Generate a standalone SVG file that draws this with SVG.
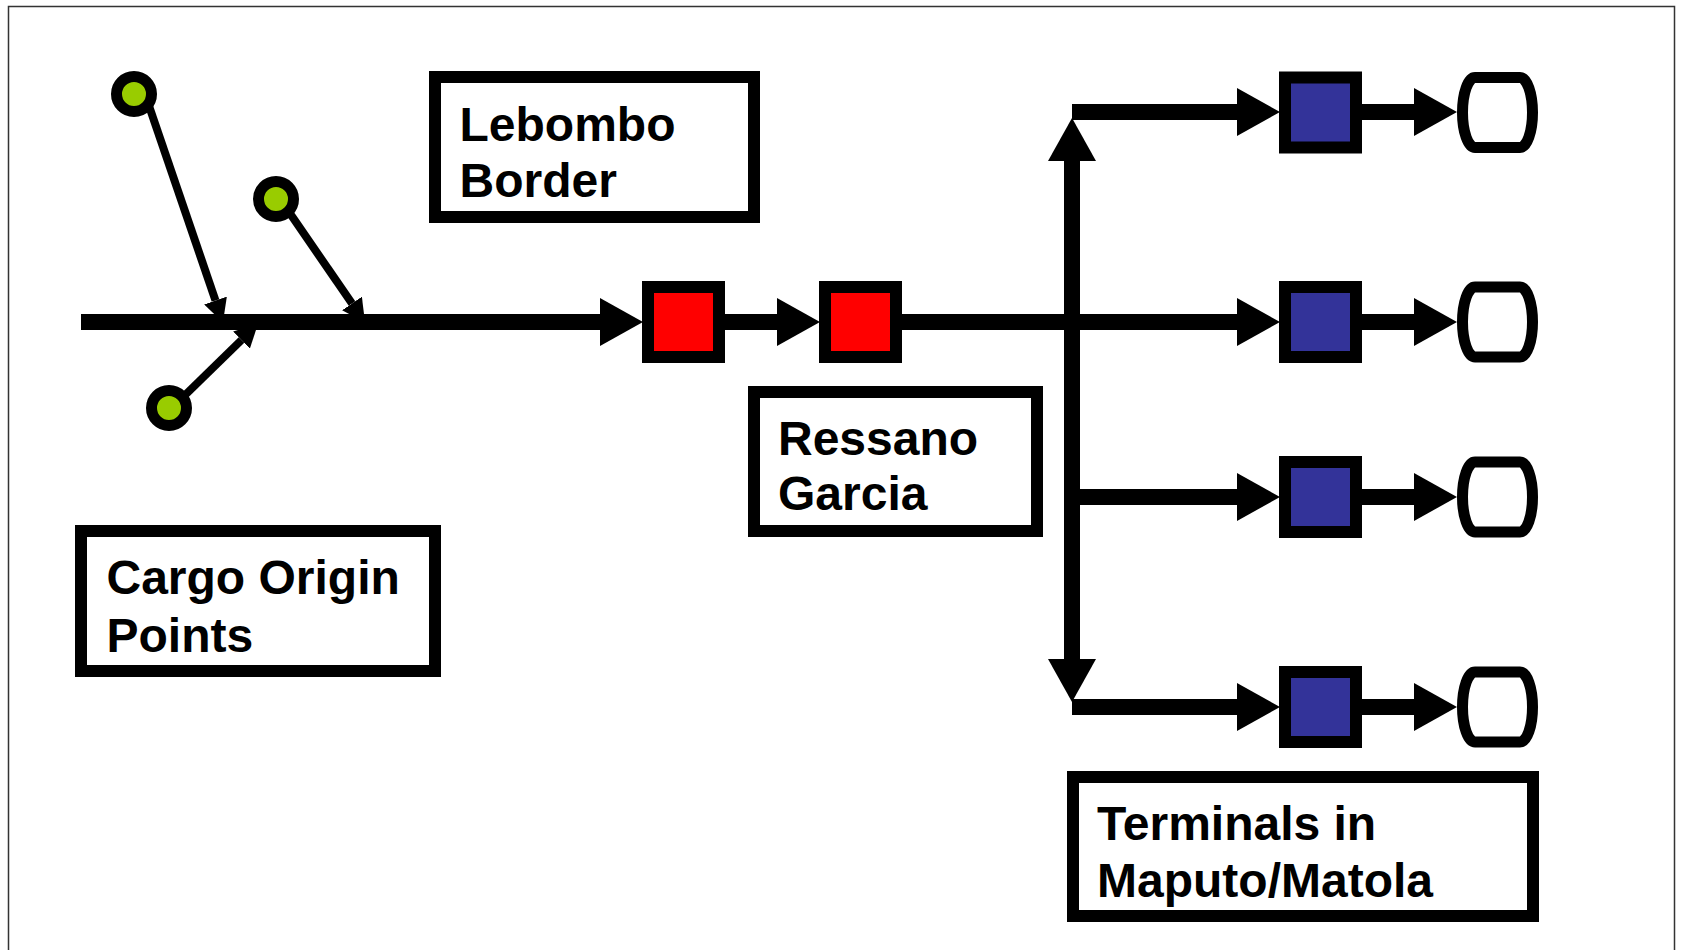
<svg xmlns="http://www.w3.org/2000/svg" width="1683" height="950" viewBox="0 0 1683 950">
<style>
  .label { font-family: "Liberation Sans", Arial, sans-serif; font-weight: bold; font-size: 48px; fill: #000; }
  .box { fill: #fff; stroke: #000; stroke-width: 12; }
  .red { fill: #FF0000; stroke: #000; stroke-width: 12; }
  .blue { fill: #333399; stroke: #000; stroke-width: 12; }
  .term { fill: #fff; stroke: #000; stroke-width: 11; }
  .origin { fill: #99CC00; stroke: #000; stroke-width: 11; }
  .thick { stroke: #000; stroke-width: 16; fill: none; marker-end: url(#big); }
  .plain { stroke: #000; stroke-width: 16; fill: none; }
  .thin { stroke: #000; stroke-width: 8; fill: none; marker-end: url(#small); }
</style>
<defs>
  <marker id="big" markerUnits="userSpaceOnUse" markerWidth="44" markerHeight="48" refX="0" refY="24" orient="auto-start-reverse" viewBox="0 0 44 48">
    <path d="M0,0 L43,24 L0,48 Z" fill="#000"/>
  </marker>
  <marker id="small" markerUnits="userSpaceOnUse" markerWidth="24" markerHeight="24" refX="0" refY="12" orient="auto" viewBox="0 0 24 24">
    <path d="M0,0 L23,12 L0,24 Z" fill="#000"/>
  </marker>
</defs>
<rect x="0" y="0" width="1683" height="950" fill="#fff"/>
<rect x="8.5" y="6.5" width="1666" height="1000" fill="none" stroke="#333" stroke-width="1.5"/>

<g id="connectors">
  <line class="thin" x1="148" y1="103" x2="215.5" y2="300.5"/>
  <line class="thin" x1="289" y1="212" x2="352" y2="303.5"/>
  <line class="thin" x1="180" y1="400" x2="241.5" y2="340"/>
  <line class="thick" x1="81" y1="322" x2="600" y2="322"/>
  <line class="thick" x1="725" y1="322" x2="777" y2="322"/>
  <line class="thick" x1="902" y1="322" x2="1237" y2="322"/>
  <line class="plain" x1="1072" y1="161" x2="1072" y2="659" style="marker-start:url(#big);marker-end:url(#big)"/>
  <line class="thick" x1="1072" y1="112" x2="1237" y2="112"/>
  <line class="thick" x1="1072" y1="497" x2="1237" y2="497"/>
  <line class="thick" x1="1072" y1="707" x2="1237" y2="707"/>
  <line class="thick" x1="1362" y1="112" x2="1414" y2="112"/>
  <line class="thick" x1="1362" y1="322" x2="1414" y2="322"/>
  <line class="thick" x1="1362" y1="497" x2="1414" y2="497"/>
  <line class="thick" x1="1362" y1="707" x2="1414" y2="707"/>
</g>

<g id="origin1"><circle class="origin" cx="134" cy="94" r="17.5"/></g>
<g id="origin2"><circle class="origin" cx="276" cy="199" r="17.5"/></g>
<g id="origin3"><circle class="origin" cx="169" cy="408" r="17.5"/></g>

<g id="lebombo"><rect class="red" x="648" y="287" width="71" height="70"/></g>
<g id="ressano"><rect class="red" x="825" y="287" width="71" height="70"/></g>

<g id="term-a1"><rect class="blue" x="1285" y="77.5" width="71" height="70"/></g>
<g id="term-b1"><rect class="blue" x="1285" y="287" width="71" height="70"/></g>
<g id="term-c1"><rect class="blue" x="1285" y="462" width="71" height="70"/></g>
<g id="term-d1"><rect class="blue" x="1285" y="672" width="71" height="70"/></g>

<g id="term-a2"><path class="term" d="M1475,77.5 H1520 A12.5 35 0 0 1 1520,147.5 H1475 A12.5 35 0 0 1 1475,77.5 Z"/></g>
<g id="term-b2"><path class="term" d="M1475,287 H1520 A12.5 35 0 0 1 1520,357 H1475 A12.5 35 0 0 1 1475,287 Z"/></g>
<g id="term-c2"><path class="term" d="M1475,462 H1520 A12.5 35 0 0 1 1520,532 H1475 A12.5 35 0 0 1 1475,462 Z"/></g>
<g id="term-d2"><path class="term" d="M1475,672 H1520 A12.5 35 0 0 1 1520,742 H1475 A12.5 35 0 0 1 1475,672 Z"/></g>

<g id="label-lebombo">
  <rect class="box" x="435" y="77" width="319" height="140"/>
  <text class="label" x="459.5" y="141">Lebombo</text>
  <text class="label" x="459.5" y="197">Border</text>
</g>
<g id="label-cargo">
  <rect class="box" x="81" y="531" width="354" height="140"/>
  <text class="label" x="106.5" y="594">Cargo Origin</text>
  <text class="label" x="106.5" y="652">Points</text>
</g>
<g id="label-ressano">
  <rect class="box" x="754" y="392" width="283" height="139"/>
  <text class="label" x="778" y="455">Ressano</text>
  <text class="label" x="778" y="510">Garcia</text>
</g>
<g id="label-terminals">
  <rect class="box" x="1073" y="777" width="460" height="139"/>
  <text class="label" x="1097" y="840">Terminals in</text>
  <text class="label" x="1097" y="897">Maputo/Matola</text>
</g>
</svg>
